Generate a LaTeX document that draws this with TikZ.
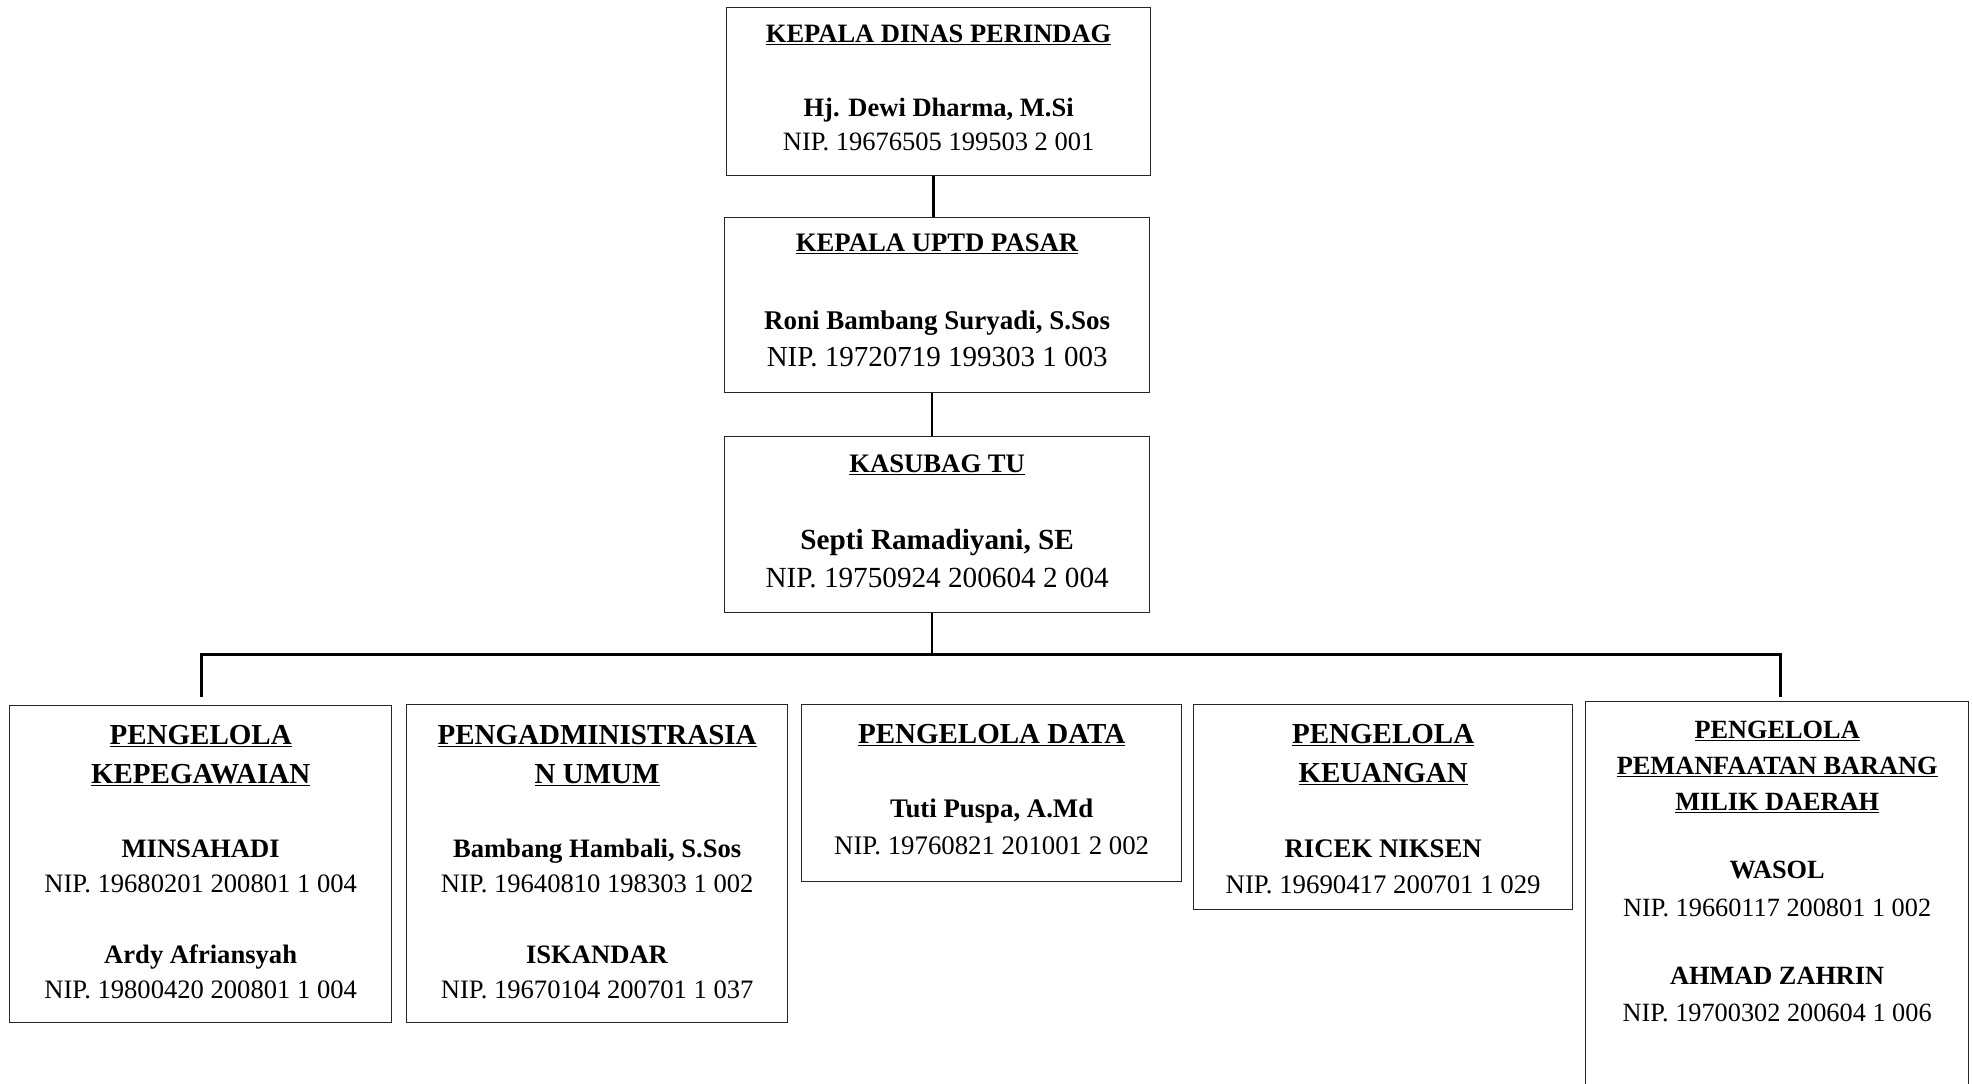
\documentclass[tikz,border=0pt]{standalone}
\usepackage{fontspec}
\setmainfont{Liberation Serif}
\usetikzlibrary{positioning}

\newcommand{\jab}[1]{\underline{\textbf{#1}}}
\newcommand{\setfs}[1]{\fontsize{#1}{36}\selectfont}

\begin{document}
\begin{tikzpicture}[x=1pt,y=-1pt,
    box/.style={draw=black!85,line width=1.3pt,anchor=north west,inner sep=0pt},
    txt/.style={anchor=north,align=center,inner sep=0pt},
    link/.style={line width=2.5pt}]

    % page frame
    \useasboundingbox (0,0) rectangle (1973,1084);

    % top row of boxes
    \node[box,minimum width=424pt,minimum height=168pt] (kadis) at (726,7) {};
    \node[box,minimum width=425pt,minimum height=175pt] (uptd) at (724,217) {};
    \node[box,minimum width=425pt,minimum height=176pt] (kasubag) at (724,436) {};

    % bottom row of boxes
    \node[box,minimum width=382pt,minimum height=317pt] (kepeg) at (9,705) {};
    \node[box,minimum width=381pt,minimum height=318pt] (umum) at (406,704) {};
    \node[box,minimum width=380pt,minimum height=177pt] (data) at (801,704) {};
    \node[box,minimum width=379pt,minimum height=205pt] (keu) at (1193,704) {};
    \node[box,minimum width=383pt,minimum height=420pt] (bmd) at (1585,701) {};

    % texts
    \node[txt,font=\fontsize{26.5}{34}\selectfont,below=18pt of kadis.north] (tkadis)
        {\jab{KEPALA DINAS PERINDAG}\\[40pt]
         \textbf{Hj. Dewi Dharma, M.Si}\\
         NIP. 19676505 199503 2 001};

    \node[txt,font=\fontsize{29}{37}\selectfont,below=17pt of uptd.north] (tuptd)
        {{\setfs{26.7}\jab{KEPALA UPTD PASAR}}\\[41pt]
         {\setfs{27}\textbf{Roni Bambang Suryadi, S.Sos}}\\
         NIP. 19720719 199303 1 003};

    \node[txt,font=\fontsize{29.2}{38}\selectfont,below=19pt of kasubag.north] (tkasubag)
        {{\setfs{26.7}\jab{KASUBAG TU}}\\[39pt]
         \textbf{Septi Ramadiyani, SE}\\
         NIP. 19750924 200604 2 004};

    \node[txt,font=\fontsize{26.6}{35}\selectfont,below=20pt of kepeg.north] (tkepeg)
        {{\setfs{29}\jab{PENGELOLA}}\\[4pt]
         {\setfs{29}\jab{KEPEGAWAIAN}}\\[39pt]
         \textbf{MINSAHADI}\\
         NIP. 19680201 200801 1 004\\[36pt]
         \textbf{Ardy Afriansyah}\\
         NIP. 19800420 200801 1 004};

    \node[txt,font=\fontsize{26.6}{35}\selectfont,below=21pt of umum.north] (tumum)
        {{\setfs{29}\jab{PENGADMINISTRASIA}}\\[4pt]
         {\setfs{29}\jab{N UMUM}}\\[39pt]
         \textbf{Bambang Hambali, S.Sos}\\
         NIP. 19640810 198303 1 002\\[36pt]
         \textbf{ISKANDAR}\\
         NIP. 19670104 200701 1 037};

    \node[txt,font=\fontsize{26.8}{36}\selectfont,below=20pt of data.north] (tdata)
        {{\setfs{29}\jab{PENGELOLA DATA}}\\[38pt]
         \textbf{Tuti Puspa, A.Md}\\[1pt]
         NIP. 19760821 201001 2 002};

    \node[txt,font=\fontsize{26.8}{36}\selectfont,below=20pt of keu.north] (tkeu)
        {{\setfs{29}\jab{PENGELOLA}}\\[3pt]
         {\setfs{29}\jab{KEUANGAN}}\\[39pt]
         \textbf{RICEK NIKSEN}\\
         NIP. 19690417 200701 1 029};

    \node[txt,font=\fontsize{26.3}{36}\selectfont,below=20pt of bmd.north] (tbmd)
        {\jab{PENGELOLA}\\
         \jab{PEMANFAATAN BARANG}\\
         \jab{MILIK DAERAH}\\[32pt]
         \textbf{WASOL}\\[2pt]
         NIP. 19660117 200801 1 002\\[32pt]
         \textbf{AHMAD ZAHRIN}\\[1pt]
         NIP. 19700302 200604 1 006};

    % connecting lines
    \coordinate (busL) at (201,654);
    \coordinate (busR) at (1780,654);
    \coordinate (dropL) at (201,697);
    \coordinate (dropR) at (1780,697);

    \draw[link] ([xshift=-5pt]kadis.south) -- ([xshift=-5pt]kadis.south |- uptd.north);
    \draw[link] ([xshift=-5pt]uptd.south) -- ([xshift=-5pt]uptd.south |- kasubag.north);
    \draw[link] ([xshift=-5pt]kasubag.south) -- ([xshift=-5pt]kasubag.south |- busL);
    \draw[link,line width=3pt] (dropL) -- (busL) -- (busR) -- (dropR);

\end{tikzpicture}
\end{document}
